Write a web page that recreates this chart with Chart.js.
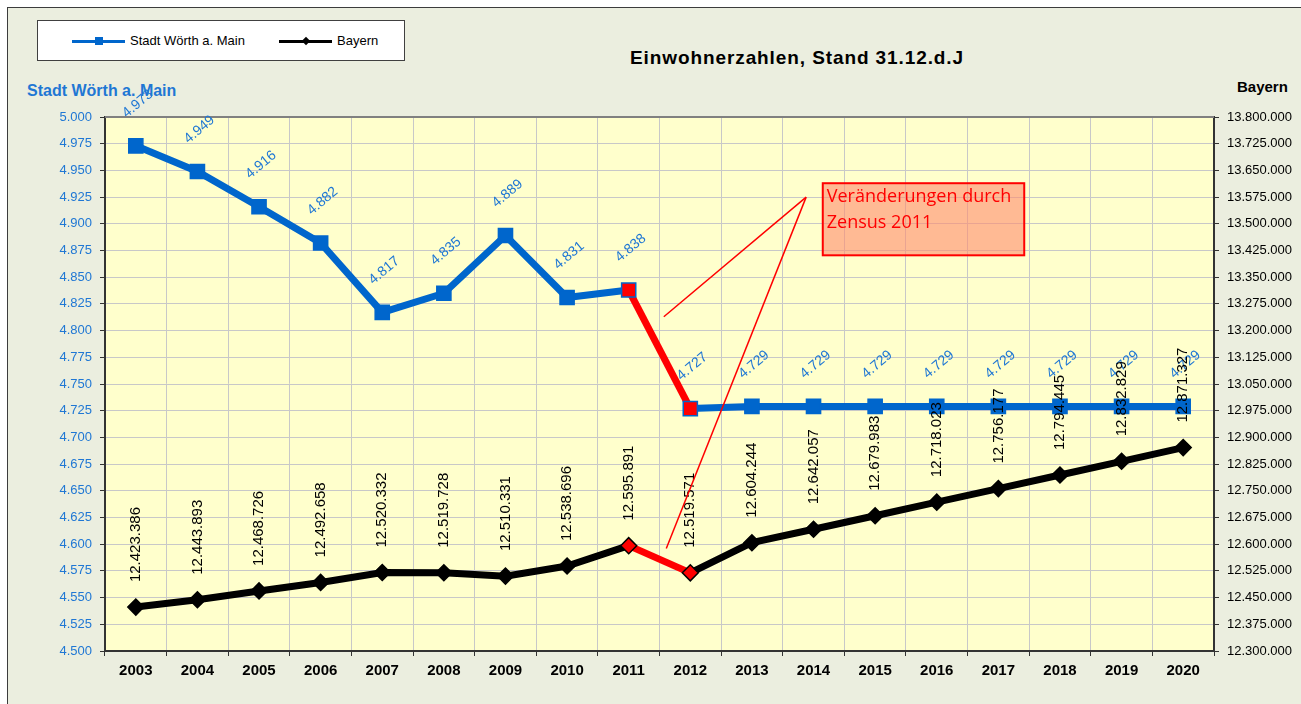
<!DOCTYPE html>
<html lang="de">
<head>
<meta charset="utf-8">
<title>Einwohnerzahlen, Stand 31.12.d.J</title>
<script src="https://cdn.jsdelivr.net/npm/chart.js@4.4.0/dist/chart.umd.min.js"></script>
<style>
html,body{margin:0;padding:0;background:#fff;overflow:hidden;}
#rahmen{position:absolute;left:7px;top:7px;width:1400px;height:800px;border:1px solid #3c3c3c;background:#ebeedf;}
.txt{position:absolute;font-family:"Liberation Sans",Arial,sans-serif;white-space:nowrap;}
#legende{position:absolute;left:37px;top:20px;width:366px;height:39px;border:1px solid #404040;background:#fff;}
.linie{position:absolute;height:3px;}
#chart{position:absolute;left:0;top:0;z-index:2;}
</style>
</head>
<body>
<div id="rahmen"></div>
<div id="legende">
  <div class="linie" style="left:34px;top:19px;width:53px;background:#0066cc;"></div>
  <div style="position:absolute;left:57px;top:16px;width:8px;height:8px;background:#0066cc;"></div>
  <div class="txt" style="left:92px;top:12px;font-size:13px;line-height:16px;color:#000;">Stadt Wörth a. Main</div>
  <div class="linie" style="left:241px;top:19px;width:53px;background:#000;"></div>
  <div style="position:absolute;left:265px;top:17px;width:6px;height:6px;background:#000;transform:rotate(45deg);"></div>
  <div class="txt" style="left:299px;top:12px;font-size:13px;line-height:16px;color:#000;">Bayern</div>
</div>
<div class="txt" style="left:797px;top:58px;transform:translate(-50%,-50%);font-size:19px;font-weight:bold;letter-spacing:0.9px;color:#000;">Einwohnerzahlen, Stand 31.12.d.J</div>
<div class="txt" style="left:27px;top:82px;font-size:16px;line-height:18px;font-weight:bold;color:#1f77d4;">Stadt Wörth a. Main</div>
<div class="txt" style="left:1237px;top:78px;font-size:15px;line-height:18px;font-weight:bold;color:#000;">Bayern</div>
<canvas id="chart" width="1301" height="704"></canvas>
<script>
// Daten
var jahre=['2003','2004','2005','2006','2007','2008','2009','2010','2011','2012','2013','2014','2015','2016','2017','2018','2019','2020'];
var stadtWoerth=[4973,4949,4916,4882,4817,4835,4889,4831,4838,4727,4729,4729,4729,4729,4729,4729,4729,4729];
var bayern=[12423386,12443893,12468726,12492658,12520332,12519728,12510331,12538696,12595891,12519571,12604244,12642057,12679983,12718023,12756177,12794445,12832829,12871327];
var stadtAchse=[4500,5000,25];
var bayernAchse=[12300000,13800000,75000];
var zensusIndex=jahre.indexOf('2011');

var schrift='"Liberation Sans", Arial, sans-serif';
var blau='#0066cc';
var blauText='#1f77d4';
var rot='#ff0000';

function punkt(v) {
    return String(Math.round(v)).replace(/\B(?=(\d{3})+(?!\d))/g,'.');
}

// Hinweis "Zensus 2011", in Achsenwerten (x = Kategorie-Index, y = Stadt-Achse)
var hinweisLinien=[[8.57,4813,10.88,4925],[10.88,4925,8.61,4596]];
var hinweisBox=[11.15,4938,14.42,4870.5];
var hinweisText=['Veränderungen durch','Zensus 2011'];

function punktFarben(normal) {
    return jahre.map(function(j,i) {
        return (i==zensusIndex || i==zensusIndex+1) ? rot : normal;
    });
}

/*Hintergrund der Zeichenfläche*/
var hintergrund={
    id:'hintergrund',
    beforeDraw:function(chart) {
        var a=chart.chartArea;
        var ctx=chart.ctx;
        ctx.save();
        ctx.fillStyle='#ffffcc';
        ctx.fillRect(a.left,a.top,a.right-a.left,a.bottom-a.top);
        ctx.restore();
    },
    beforeDatasetsDraw:function(chart) {
        var a=chart.chartArea;
        var ctx=chart.ctx;
        ctx.save();
        ctx.strokeStyle='#808080';
        ctx.lineWidth=2;
        ctx.beginPath();
        ctx.moveTo(a.left,a.top);
        ctx.lineTo(a.right,a.top);
        ctx.stroke();
        ctx.restore();
    }
};

/*Datenbeschriftungen und Zensus-Hinweis*/
var beschriftung={
    id:'beschriftung',
    afterDatasetsDraw:function(chart) {
        var ctx=chart.ctx;
        var stadtPunkte=chart.getDatasetMeta(0).data;
        var bayernPunkte=chart.getDatasetMeta(1).data;
        ctx.save();
        ctx.font='14px '+schrift;
        ctx.fillStyle=blauText;
        ctx.textAlign='center';
        ctx.textBaseline='middle';
        for(let i=0;i<stadtPunkte.length;i++) {
            ctx.save();
            ctx.translate(stadtPunkte[i].x+2,stadtPunkte[i].y-42);
            ctx.rotate(-40*Math.PI/180);
            ctx.fillText(punkt(stadtWoerth[i]),0,0);
            ctx.restore();
        }
        ctx.font='15px '+schrift;
        ctx.fillStyle='#000';
        ctx.textAlign='left';
        for(let i=0;i<bayernPunkte.length;i++) {
            ctx.save();
            ctx.translate(bayernPunkte[i].x,bayernPunkte[i].y-25);
            ctx.rotate(-Math.PI/2);
            ctx.fillText(punkt(bayern[i]),0,0);
            ctx.restore();
        }

        var x=chart.scales.x;
        var y=chart.scales.y;
        ctx.strokeStyle=rot;
        ctx.lineWidth=1.5;
        hinweisLinien.forEach(function(l) {
            ctx.beginPath();
            ctx.moveTo(x.getPixelForValue(l[0]),y.getPixelForValue(l[1]));
            ctx.lineTo(x.getPixelForValue(l[2]),y.getPixelForValue(l[3]));
            ctx.stroke();
        });
        var bx=x.getPixelForValue(hinweisBox[0]);
        var by=y.getPixelForValue(hinweisBox[1]);
        var bw=x.getPixelForValue(hinweisBox[2])-bx;
        var bh=y.getPixelForValue(hinweisBox[3])-by;
        ctx.fillStyle='rgba(255,140,110,0.6)';
        ctx.fillRect(bx,by,bw,bh);
        ctx.strokeStyle=rot;
        ctx.lineWidth=2;
        ctx.strokeRect(bx,by,bw,bh);
        ctx.fillStyle=rot;
        ctx.font='18px "Open Sans", sans-serif';
        ctx.textAlign='left';
        ctx.textBaseline='middle';
        ctx.fillText(hinweisText[0],bx+4,by+14);
        ctx.fillText(hinweisText[1],bx+4,by+40);
        ctx.restore();
    }
};

var ctx=document.querySelector('#chart').getContext('2d');
var myChart=new Chart(ctx,{
    type:'line',
    data:{
        labels:jahre,
        datasets:[{
            label:'Stadt Wörth a. Main',
            data:stadtWoerth,
            yAxisID:'y',
            borderColor:blau,
            borderWidth:7,
            tension:0,
            pointStyle:'rect',
            pointRadius:10,
            pointHoverRadius:10,
            pointBackgroundColor:punktFarben(blau),
            pointBorderColor:blau,
            pointBorderWidth:1.5,
            segment:{borderColor:function(c) { return c.p0DataIndex==zensusIndex ? rot : undefined; }}
        },{
            label:'Bayern',
            data:bayern,
            yAxisID:'y1',
            borderColor:'#000',
            borderWidth:7,
            tension:0,
            pointStyle:'rectRot',
            pointRadius:8,
            pointHoverRadius:8,
            pointBackgroundColor:punktFarben('#000'),
            pointBorderColor:'#000',
            pointBorderWidth:1.5,
            segment:{borderColor:function(c) { return c.p0DataIndex==zensusIndex ? rot : undefined; }}
        }]
    },
    options:{
        responsive:false,
        animation:false,
        devicePixelRatio:1,
        layout:{padding:{left:20,top:117,right:0,bottom:0}},
        plugins:{legend:{display:false},tooltip:{enabled:false}},
        scales:{
            x:{
                offset:true,
                grid:{offset:true,color:'#c8c8c8',tickColor:'#333',tickLength:5},
                border:{color:'#333',width:2},
                ticks:{color:'#000',font:{family:schrift,size:15,weight:'bold'},padding:6,maxRotation:0,autoSkip:false},
                afterFit:function(s) { s.height=53; }
            },
            y:{
                position:'left',
                min:stadtAchse[0],max:stadtAchse[1],
                grid:{color:'#c8c8c8',tickColor:'#333',tickLength:5},
                border:{color:'#333',width:2},
                ticks:{stepSize:stadtAchse[2],maxTicksLimit:30,autoSkip:false,color:blauText,font:{family:schrift,size:13},padding:8,callback:punkt},
                afterFit:function(s) { s.width=85; }
            },
            y1:{
                position:'right',
                min:bayernAchse[0],max:bayernAchse[1],
                grid:{drawOnChartArea:false,tickColor:'#333',tickLength:5},
                border:{color:'#333',width:2},
                ticks:{stepSize:bayernAchse[2],maxTicksLimit:30,autoSkip:false,color:'#000',font:{family:schrift,size:13},padding:8,callback:punkt},
                afterFit:function(s) { s.width=87; }
            }
        }
    },
    plugins:[hintergrund,beschriftung]
});
</script>
</body>
</html>
